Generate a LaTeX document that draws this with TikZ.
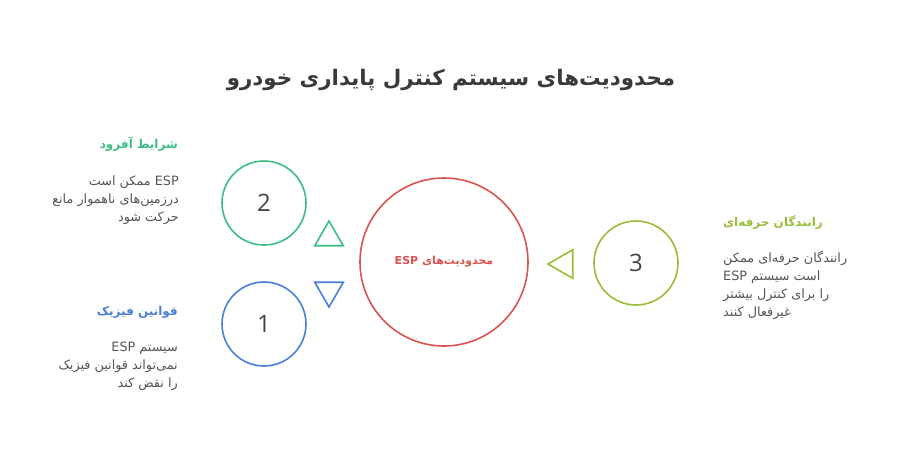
\documentclass[tikz,border=0pt]{standalone}
\usepackage{fontspec}
\usetikzlibrary{shapes.geometric}
\setmainfont{Open Sans}
\newfontfamily\fa[Script=Arabic]{DejaVu Sans}
\TeXXeTstate=1
\definecolor{cgreen}{HTML}{3DBE87}
\definecolor{cblue}{HTML}{4A7FD9}
\definecolor{cred}{HTML}{D9534F}
\definecolor{colive}{HTML}{9ABD3A}
\definecolor{ctitle}{HTML}{3A3A3A}
\definecolor{cbody}{HTML}{555555}
\definecolor{cnum}{HTML}{444444}
\tikzset{
  numcircle/.style={circle, line width=1.6pt, minimum size=84pt, inner sep=0pt, text=cnum, font=\fontsize{24}{28}\selectfont},
  tri/.style={regular polygon, regular polygon sides=3, line width=1.6pt, minimum size=33pt, inner sep=0pt},
  head/.style={font=\fa\bfseries\fontsize{12}{14}\selectfont, inner sep=0pt},
  body/.style={font=\fa\fontsize{12.8}{18}\selectfont, text=cbody, inner sep=0pt},
}
\begin{document}
\begin{tikzpicture}[x=1pt,y=-1pt]
\useasboundingbox (0,0) rectangle (904,456);
\fill[white] (0,0) rectangle (904,456);

\node[inner sep=0pt, text=ctitle, font=\fa\bfseries\fontsize{21.4}{26}\selectfont] (title) at (451,80)
  {\beginR محدودیت^^^^200cهای سیستم کنترل پایداری خودرو\endR};

\node[circle, draw=cred, line width=1.6pt, minimum size=168pt, inner sep=0pt,
      text=cred, font=\fa\bfseries\fontsize{11}{13}\selectfont] (center) at (444,262)
  {\beginR محدودیت^^^^200cهای \beginL ESP\endL\endR};

\node[numcircle, draw=cgreen] (c2) at (264,203) {2};
\node[numcircle, draw=cblue] (c1) at (264,324) {1};
\node[numcircle, draw=colive] (c3) at (636,263) {3};

\node[tri, draw=cgreen] (t2) at (329,237.5) {};
\node[tri, draw=cblue, shape border rotate=180] (t1) at (329,290.5) {};
\node[tri, draw=colive, shape border rotate=90] (t3) at (564.5,264) {};

\node[head, text=cgreen, anchor=east] (h2) at (178,144) {\beginR شرایط آفرود\endR};
\node[body, anchor=north east, align=right] (b2) at (179,176)
  {\beginR\beginL ESP\endL{} ممکن است\endR\\
   \beginR درزمین^^^^200cهای ناهموار مانع\endR\\
   \beginR حرکت شود\endR};

\node[head, text=cblue, anchor=east] (h1) at (178,312) {\beginR قوانین فیزیک\endR};
\node[body, anchor=north east, align=right] (b1) at (178,342)
  {\beginR سیستم \beginL ESP\endL\endR\\
   \beginR نمی^^^^200cتواند قوانین فیزیک\endR\\
   \beginR را نقض کند\endR};

\node[head, text=colive, anchor=west] (h3) at (723,222) {\beginR رانندگان حرفه^^^^200cای\endR};
\node[body, anchor=north west, align=left] (b3) at (723,251)
  {\beginR رانندگان حرفه^^^^200cای ممکن\endR\\
   \beginR است سیستم \beginL ESP\endL\endR\\
   \beginR را برای کنترل بیشتر\endR\\
   \beginR غیرفعال کنند\endR};
\end{tikzpicture}
\end{document}
